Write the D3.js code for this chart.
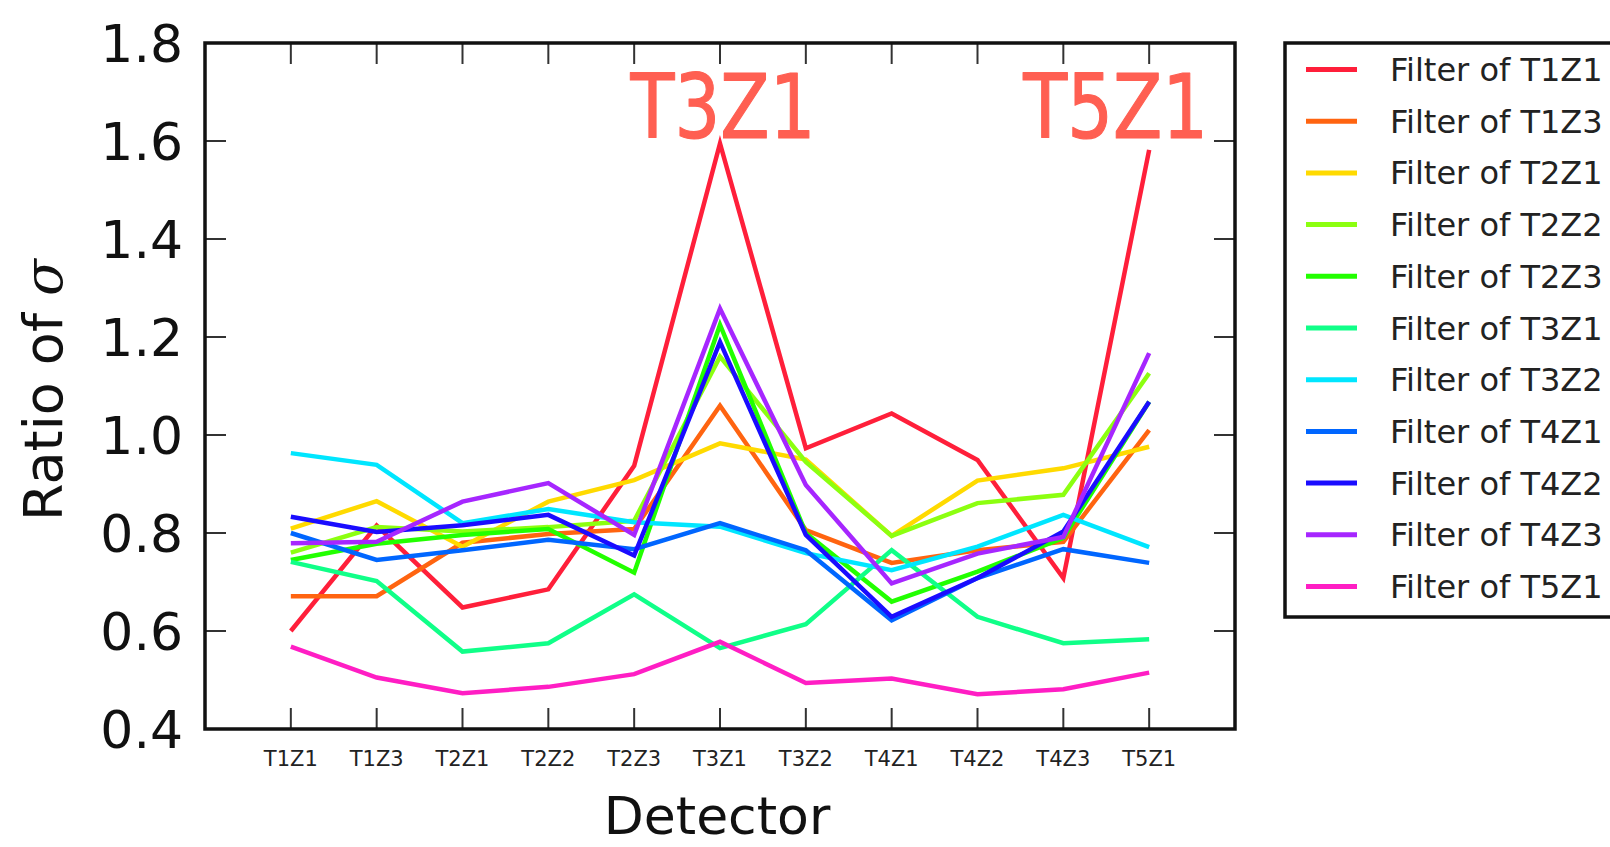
<!DOCTYPE html>
<html>
<head>
<meta charset="utf-8">
<script src="https://cdn.jsdelivr.net/npm/d3@7"></script>
<style>
  html, body { margin: 0; padding: 0; background: #fff; }
  svg { display: block; }
  text { font-family: "DejaVu Sans", sans-serif; }
</style>
</head>
<body>
<script>
// Detectors along the x axis
const detectors = ["T1Z1", "T1Z3", "T2Z1", "T2Z2", "T2Z3", "T3Z1", "T3Z2", "T4Z1", "T4Z2", "T4Z3", "T5Z1"];

// Ratio of sigma for each filter, one value per detector
const filterT1Z1 = [0.600, 0.815, 0.648, 0.685, 0.937, 1.595, 0.973, 1.044, 0.949, 0.708, 1.582];
const filterT1Z3 = [0.671, 0.671, 0.780, 0.798, 0.808, 1.060, 0.806, 0.739, 0.765, 0.782, 1.010];
const filterT2Z1 = [0.809, 0.865, 0.772, 0.864, 0.908, 0.983, 0.950, 0.794, 0.907, 0.932, 0.976];
const filterT2Z2 = [0.760, 0.812, 0.803, 0.812, 0.825, 1.160, 0.945, 0.794, 0.861, 0.878, 1.126];
const filterT2Z3 = [0.745, 0.778, 0.796, 0.808, 0.719, 1.225, 0.800, 0.660, 0.721, 0.790, 1.068];
const filterT3Z1 = [0.741, 0.702, 0.558, 0.575, 0.675, 0.565, 0.614, 0.765, 0.629, 0.575, 0.583];
const filterT3Z2 = [0.963, 0.939, 0.820, 0.849, 0.822, 0.813, 0.759, 0.724, 0.772, 0.837, 0.771];
const filterT4Z1 = [0.800, 0.745, 0.765, 0.786, 0.767, 0.820, 0.765, 0.622, 0.708, 0.767, 0.739];
const filterT4Z2 = [0.833, 0.802, 0.816, 0.837, 0.754, 1.190, 0.796, 0.629, 0.708, 0.803, 1.068];
const filterT4Z3 = [0.779, 0.782, 0.864, 0.902, 0.796, 1.258, 0.898, 0.697, 0.758, 0.792, 1.167];
const filterT5Z1 = [0.568, 0.505, 0.473, 0.486, 0.512, 0.578, 0.494, 0.503, 0.471, 0.481, 0.515];

const seriesNames = ["Filter of T1Z1", "Filter of T1Z3", "Filter of T2Z1", "Filter of T2Z2", "Filter of T2Z3",
  "Filter of T3Z1", "Filter of T3Z2", "Filter of T4Z1", "Filter of T4Z2", "Filter of T4Z3", "Filter of T5Z1"];
const seriesValues = [filterT1Z1, filterT1Z3, filterT2Z1, filterT2Z2, filterT2Z3,
  filterT3Z1, filterT3Z2, filterT4Z1, filterT4Z2, filterT4Z3, filterT5Z1];
const seriesColors = ["#ff1f3a", "#ff6410", "#ffda00", "#8cff10", "#22ff00",
  "#10ff88", "#00e6ff", "#0066ff", "#1a0cff", "#a626ff", "#ff1ec4"];

const yTicks = [0.4, 0.6, 0.8, 1.0, 1.2, 1.4, 1.6, 1.8];
const callouts = [{ label: "T3Z1", at: "T3Z1", anchor: "middle" }, { label: "T5Z1", at: "T5Z1", anchor: "end" }];

const W = 1610, H = 847;
const plot = { left: 205, right: 1235, top: 43, bottom: 729 };

const svg = d3.select("body").append("svg").attr("width", W).attr("height", H);

const x = d3.scalePoint().domain(detectors).range([plot.left, plot.right]).padding(1);
const y = d3.scaleLinear().domain([0.4, 1.8]).range([plot.bottom, plot.top]);

const tickLen = 21;
const tickColor = "#333";

// Series lines
const line = d3.line().x((d, i) => x(detectors[i])).y(d => y(d));
svg.append("g").selectAll("path")
  .data(seriesValues)
  .join("path")
  .attr("d", d => line(d))
  .attr("fill", "none")
  .attr("stroke", (d, i) => seriesColors[i])
  .attr("stroke-width", 4.5)
  .attr("stroke-linejoin", "miter")
  .attr("stroke-linecap", "butt");

// Inward ticks on all four sides
const ticks = svg.append("g").attr("stroke", tickColor).attr("stroke-width", 2);
yTicks.forEach(v => {
  ticks.append("line").attr("x1", plot.left).attr("x2", plot.left + tickLen).attr("y1", y(v)).attr("y2", y(v));
  ticks.append("line").attr("x1", plot.right).attr("x2", plot.right - tickLen).attr("y1", y(v)).attr("y2", y(v));
});
detectors.forEach(c => {
  ticks.append("line").attr("x1", x(c)).attr("x2", x(c)).attr("y1", plot.bottom).attr("y2", plot.bottom - tickLen);
  ticks.append("line").attr("x1", x(c)).attr("x2", x(c)).attr("y1", plot.top).attr("y2", plot.top + tickLen);
});

// Frame
svg.append("rect")
  .attr("x", plot.left).attr("y", plot.top)
  .attr("width", plot.right - plot.left).attr("height", plot.bottom - plot.top)
  .attr("fill", "none").attr("stroke", "#111").attr("stroke-width", 3.5);

// Y tick labels
svg.append("g").selectAll("text")
  .data(yTicks)
  .join("text")
  .attr("x", 183)
  .attr("y", d => y(d))
  .attr("dy", "0.36em")
  .attr("text-anchor", "end")
  .attr("font-size", 52)
  .attr("fill", "#111")
  .text(d => d3.format(".1f")(d));

// X tick labels
svg.append("g").selectAll("text")
  .data(detectors)
  .join("text")
  .attr("x", d => x(d))
  .attr("y", 766)
  .attr("text-anchor", "middle")
  .attr("font-size", 21)
  .attr("fill", "#222")
  .text(d => d);

// Axis titles
svg.append("text")
  .attr("x", (plot.left + plot.right) / 2 - 3)
  .attr("y", 834)
  .attr("text-anchor", "middle")
  .attr("font-size", 52)
  .attr("fill", "#111")
  .text("Detector");

const yTitle = svg.append("text")
  .attr("transform", `translate(62,${(plot.top + plot.bottom) / 2 + 4}) rotate(-90)`)
  .attr("text-anchor", "middle")
  .attr("font-size", 54)
  .attr("fill", "#111");
yTitle.append("tspan").text("Ratio of ");
yTitle.append("tspan").attr("font-style", "italic").attr("font-family", "DejaVu Serif, serif").text("σ");

// Callouts over the two peaks (stretched upright, rounded strokes)
svg.append("g").selectAll("text")
  .data(callouts)
  .join("text")
  .attr("transform", d => {
    const tx = d.anchor === "end" ? x(d.at) + 59 : x(d.at) + 3;
    return `translate(${tx},${y(1.6) - 3}) scale(1,1.24)`;
  })
  .attr("text-anchor", d => d.anchor)
  .attr("font-size", 72)
  .attr("fill", "#ff5f52")
  .attr("stroke", "#ff5f52")
  .attr("stroke-width", 1)
  .attr("stroke-linejoin", "round")
  .text(d => d.label);

// Legend
const legend = svg.append("g");
legend.append("rect")
  .attr("x", 1285).attr("y", 43)
  .attr("width", 360).attr("height", 574)
  .attr("fill", "#fff").attr("stroke", "#111").attr("stroke-width", 3.5);
const rowY = i => 69.5 + i * 51.7;
const items = legend.selectAll("g.item")
  .data(seriesNames)
  .join("g").attr("class", "item");
items.append("line")
  .attr("x1", 1306).attr("x2", 1357)
  .attr("y1", (d, i) => rowY(i)).attr("y2", (d, i) => rowY(i))
  .attr("stroke", (d, i) => seriesColors[i])
  .attr("stroke-width", 5);
items.append("text")
  .attr("x", 1390)
  .attr("y", (d, i) => rowY(i))
  .attr("dy", "0.36em")
  .attr("font-size", 32)
  .attr("fill", "#222")
  .text(d => d);
</script>
</body>
</html>
